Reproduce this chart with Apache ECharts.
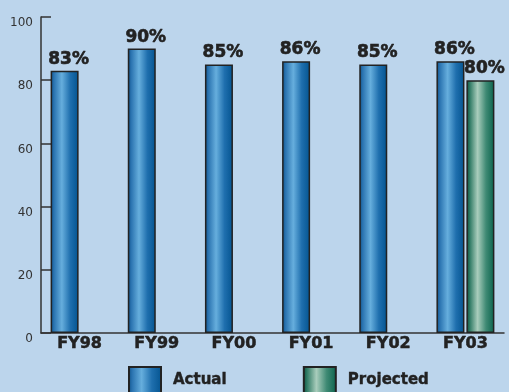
<!DOCTYPE html>
<html>
<head>
<meta charset="utf-8">
<script src="https://cdn.jsdelivr.net/npm/echarts@6/dist/echarts.min.js"></script>
<style>
html,body{margin:0;padding:0;background:#bcd5ec;}
#c{width:509px;height:392px;}
</style>
</head>
<body>
<div id="c"></div>
<script>
const categories = ['FY98','FY99','FY00','FY01','FY02','FY03'];
const actual = [83, 90, 85, 86, 85, 86];
const projected = [null, null, null, null, null, 80];
const yTicks = [0, 20, 40, 60, 80, 100];

const FONT = '"DejaVu Sans", Verdana, sans-serif';
function grad(c) {
  return new echarts.graphic.LinearGradient(0, 0, 1, 0, [
    {offset: 0, color: c[0]},
    {offset: 0.12, color: c[1]},
    {offset: 0.4, color: c[2]},
    {offset: 0.7, color: c[3]},
    {offset: 1, color: c[4]}
  ]);
}
const blue = grad(['#0d4f85', '#2a73b0', '#66aedd', '#1f6fae', '#03538f']);
const green = grad(['#064c3a', '#2f7a64', '#a9cdbc', '#3f8a74', '#0a624c']);

const chart = echarts.init(document.getElementById('c'), null, {renderer: 'canvas'});
const labelCfg = {
  show: true, position: 'top', distance: 3, offset: [4, 0],
  formatter: p => p.value + '%',
  fontFamily: FONT, fontWeight: 'bold', fontSize: 17, color: '#222',
  textBorderColor: '#222', textBorderWidth: 0.6
};
chart.setOption({
  backgroundColor: '#bcd5ec',
  animation: false,
  grid: {left: 41, right: 5, top: 17, bottom: 59, containLabel: false},
  legend: {
    bottom: -7, left: 123,
    icon: 'rect',
    itemWidth: 32, itemHeight: 26, itemGap: 76,
    textStyle: {fontFamily: FONT, fontWeight: 'bold', fontSize: 15, color: '#222', padding: [2,0,0,7],
      textBorderColor: '#222', textBorderWidth: 0.4},
    data: ['Actual', 'Projected']
  },
  xAxis: {
    type: 'category', data: categories,
    axisLine: {lineStyle: {color: '#333', width: 1.5}},
    axisTick: {inside: true, length: 7, lineStyle: {color: '#333', width: 1.5}},
    axisLabel: {fontFamily: FONT, fontWeight: 'bold', fontSize: 16, color: '#222', margin: 3,
      textBorderColor: '#222', textBorderWidth: 0.5}
  },
  yAxis: {
    type: 'value', min: 0, max: 100, interval: 20,
    splitLine: {show: false},
    axisLine: {show: true, lineStyle: {color: '#333', width: 1.5}},
    axisTick: {show: true, inside: true, length: 10, lineStyle: {color: '#333', width: 1.5}},
    axisLabel: {fontFamily: FONT, fontSize: 12, color: '#333', margin: 8,
      verticalAlign: 'top', lineHeight: 12,
      formatter: v => yTicks.includes(v) ? String(v) : ''}
  },
  series: [
    {name: 'Actual', type: 'bar', data: actual, barWidth: 28, barGap: '7%',
     itemStyle: {color: blue, borderColor: '#222', borderWidth: 1.5}, label: labelCfg},
    {name: 'Projected', type: 'bar', data: projected, barWidth: 28, barGap: '7%',
     itemStyle: {color: green, borderColor: '#222', borderWidth: 1.5}, label: labelCfg}
  ]
});
</script>
</body>
</html>
